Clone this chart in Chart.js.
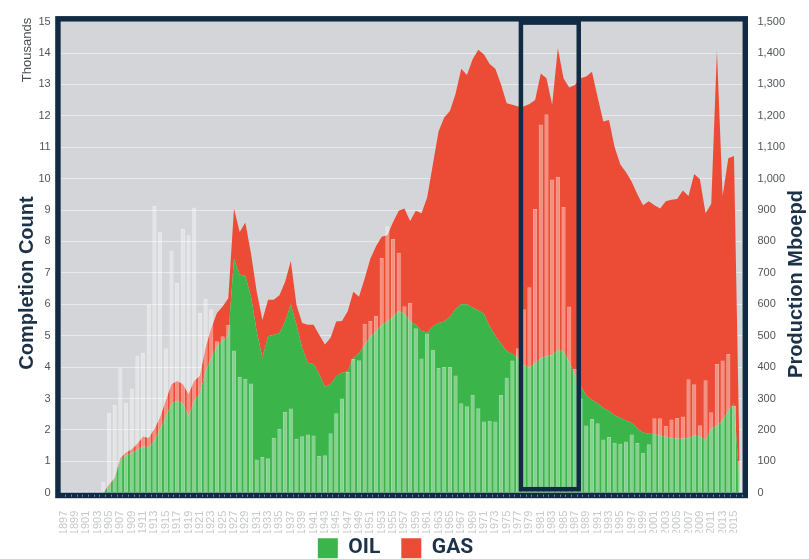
<!DOCTYPE html>
<html>
<head>
<meta charset="utf-8">
<title>Completions and production</title>
<script src="https://cdn.jsdelivr.net/npm/chart.js@4/dist/chart.umd.min.js"></script>
<style>
  html, body { margin: 0; background: #fff; }
  canvas { display: block; }
</style>
</head>
<body>
<canvas id="chart" width="809" height="559"></canvas>
<script>
// categories
const years = [
  1897, 1898, 1899, 1900, 1901, 1902, 1903, 1904, 1905, 1906,
  1907, 1908, 1909, 1910, 1911, 1912, 1913, 1914, 1915, 1916,
  1917, 1918, 1919, 1920, 1921, 1922, 1923, 1924, 1925, 1926,
  1927, 1928, 1929, 1930, 1931, 1932, 1933, 1934, 1935, 1936,
  1937, 1938, 1939, 1940, 1941, 1942, 1943, 1944, 1945, 1946,
  1947, 1948, 1949, 1950, 1951, 1952, 1953, 1954, 1955, 1956,
  1957, 1958, 1959, 1960, 1961, 1962, 1963, 1964, 1965, 1966,
  1967, 1968, 1969, 1970, 1971, 1972, 1973, 1974, 1975, 1976,
  1977, 1978, 1979, 1980, 1981, 1982, 1983, 1984, 1985, 1986,
  1987, 1988, 1989, 1990, 1991, 1992, 1993, 1994, 1995, 1996,
  1997, 1998, 1999, 2000, 2001, 2002, 2003, 2004, 2005, 2006,
  2007, 2008, 2009, 2010, 2011, 2012, 2013, 2014, 2015, 2016
];

// completion count, thousands (left axis)
const completions = [
  0.05, 0.05, 0.05, 0.05, 0.05, 0.05, 0.05, 0.35, 2.54, 2.79,
  3.98, 2.87, 3.32, 4.35, 4.45, 5.98, 9.14, 8.30, 4.60, 7.70,
  6.68, 8.40, 8.20, 9.08, 5.72, 6.17, 5.84, 4.82, 4.98, 5.35,
  4.53, 3.68, 3.63, 3.48, 1.06, 1.14, 1.10, 1.74, 2.03, 2.58,
  2.68, 1.72, 1.80, 1.85, 1.82, 1.17, 1.19, 1.89, 2.53, 3.00,
  3.84, 4.26, 4.22, 5.38, 5.47, 5.63, 7.47, 8.48, 8.08, 7.64,
  5.94, 6.05, 5.24, 4.27, 5.07, 4.55, 3.97, 4.00, 4.00, 3.73,
  2.85, 2.75, 3.11, 2.69, 2.27, 2.29, 2.27, 3.11, 3.66, 4.21,
  4.60, 5.84, 6.54, 9.03, 11.72, 12.05, 9.97, 10.06, 9.10, 5.93,
  3.95, 3.00, 2.14, 2.35, 2.21, 1.69, 1.77, 1.59, 1.56, 1.63,
  1.85, 1.58, 1.27, 1.54, 2.37, 2.37, 2.12, 2.33, 2.38, 2.43,
  3.61, 3.45, 2.15, 3.58, 2.56, 4.10, 4.21, 4.42, 2.77, 1.02
];

// production, Mboepd (right axis, stacked)
const oil = [
  0, 0, 0, 0, 0, 0, 0, 0, 20, 45,
  103, 119, 126, 137, 148, 145, 166, 203, 240, 284,
  293, 284, 245, 293, 314, 387, 429, 466, 484, 500,
  745, 695, 690, 624, 514, 430, 498, 503, 508, 545,
  600, 535, 461, 414, 410, 377, 337, 345, 371, 382,
  387, 430, 445, 470, 497, 513, 534, 545, 560, 578,
  570, 545, 535, 515, 510, 530, 540, 545, 560, 585,
  600, 600, 590, 580, 570, 530, 500, 475, 450, 442,
  430, 405, 398, 412, 428, 435, 438, 455, 450, 415,
  375, 340, 310, 295, 285, 270, 260, 247, 238, 230,
  222, 205, 192, 188, 187, 182, 178, 175, 172, 172,
  174, 182, 180, 166, 205, 212, 230, 260, 285, 30
];
const gas = [
  0, 0, 0, 0, 0, 0, 0, 0, 5, 2,
  7, 9, 12, 19, 31, 29, 37, 37, 53, 61,
  63, 61, 69, 63, 58, 74, 95, 106, 109, 119,
  160, 135, 170, 137, 126, 120, 116, 111, 121, 127,
  138, 63, 79, 121, 125, 126, 135, 148, 174, 165,
  190, 210, 179, 212, 248, 272, 281, 275, 302, 320,
  335, 320, 363, 375, 430, 515, 610, 650, 655, 685,
  750, 730, 790, 830, 825, 835, 850, 825, 790, 793,
  800, 825, 840, 838, 907, 885, 797, 960, 870, 875,
  923, 980, 1015, 1045, 975, 912, 927, 853, 807, 790,
  768, 745, 723, 740, 728, 723, 750, 758, 763, 790,
  771, 833, 818, 724, 715, 1196, 715, 805, 787, 60
];

// outlined years
const highlight = [1978, 1987];

const NAVY = '#102b43';
const TITLE = '#1c3249';
const PLOT_BG = '#d3d5d8';
const GREEN = '#3bb54a';
const RED = '#ec4c35';

Chart.defaults.font.family = '"Liberation Sans", Arial, Helvetica, sans-serif';

// plot background, dark frame, outlined years and axis titles
const frame = {
  id: 'frame',
  afterLayout(chart) {
    // pull the legend up and left so it sits where the original one does
    const lg = chart.legend;
    if (lg) {
      lg.top -= 16; lg.bottom -= 16;
      lg.left -= 9; lg.right -= 9;
    }
  },
  beforeDraw(chart) {
    const { ctx, chartArea: a } = chart;
    ctx.save();
    ctx.fillStyle = PLOT_BG;
    ctx.fillRect(a.left, a.top, a.right - a.left, a.bottom - a.top);
    ctx.restore();
  },
  afterDraw(chart) {
    const { ctx, chartArea: a, scales } = chart;
    const x = scales.x;
    const half = (x.getPixelForValue(1) - x.getPixelForValue(0)) / 2;
    ctx.save();

    ctx.strokeStyle = NAVY;
    ctx.lineWidth = 5.5;
    ctx.strokeRect(a.left - 2.75, a.top - 2.75, a.right - a.left + 5.5, a.bottom - a.top + 5.5);

    // little tick marks inside the bottom frame
    ctx.fillStyle = 'rgba(210,220,230,0.55)';
    years.forEach((y, i) => {
      ctx.fillRect(Math.round(x.getPixelForValue(i) + half) - 1, a.bottom + 2, 1, 2);
    });

    const i0 = years.indexOf(highlight[0]);
    const i1 = years.indexOf(highlight[1]);
    const l = x.getPixelForValue(i0) - half;
    const r = x.getPixelForValue(i1) + half + 1;
    ctx.lineWidth = 4.5;
    ctx.strokeRect(l, a.top + 1, r - l, a.bottom - 3.5 - a.top - 1);

    ctx.textAlign = 'center';
    ctx.textBaseline = 'middle';
    const vtext = (txt, cx, cy, font, color) => {
      ctx.save();
      ctx.translate(cx, cy);
      ctx.rotate(-Math.PI / 2);
      ctx.font = font;
      ctx.fillStyle = color;
      ctx.fillText(txt, 0, 0);
      ctx.restore();
    };
    vtext('Thousands', 27, 50, '13px "Liberation Sans", Arial, sans-serif', '#4a4f55');
    vtext('Completion Count', 27, 283, 'bold 20px "Liberation Sans", Arial, sans-serif', TITLE);
    vtext('Production Mboepd', 796, 284, 'bold 20px "Liberation Sans", Arial, sans-serif', TITLE);
    ctx.restore();
  }
};

new Chart(document.getElementById('chart'), {
  data: {
    labels: years.map(String),
    datasets: [
      {
        type: 'bar',
        label: 'Completions',
        data: completions,
        yAxisID: 'y',
        order: 0,
        backgroundColor: 'rgba(255,255,255,0.38)',
        borderColor: 'rgba(255,255,255,0.5)',
        borderWidth: 1,
        barPercentage: 0.74,
        categoryPercentage: 1
      },
      {
        type: 'line',
        label: 'OIL',
        data: oil,
        yAxisID: 'y1',
        order: 1,
        fill: 'origin',
        backgroundColor: GREEN,
        borderColor: GREEN,
        borderWidth: 0,
        pointRadius: 0,
        tension: 0
      },
      {
        type: 'line',
        label: 'GAS',
        data: gas,
        yAxisID: 'y1',
        order: 2,
        fill: '-1',
        backgroundColor: RED,
        borderColor: RED,
        borderWidth: 0,
        pointRadius: 0,
        tension: 0
      }
    ]
  },
  options: {
    responsive: false,
    animation: false,
    layout: { padding: { top: 17.7, bottom: -25.7, left: 0, right: 0 } },
    plugins: {
      tooltip: { enabled: false },
      legend: {
        position: 'bottom',
        labels: {
          boxWidth: 20,
          boxHeight: 20,
          padding: 21,
          color: TITLE,
          font: { family: 'Roboto, "Liberation Sans", Arial, sans-serif', size: 21, weight: 'bold' },
          filter: (item) => item.text !== 'Completions'
        }
      }
    },
    scales: {
      x: {
        grid: { display: false },
        border: { display: false },
        afterFit(scale) { scale.height = 40; },
        ticks: {
          autoSkip: false,
          minRotation: 90,
          maxRotation: 90,
          padding: 10,
          color: '#c6c8ca',
          font: { size: 11 },
          callback(v, i) { return i % 2 === 0 ? this.getLabelForValue(v) : ''; }
        }
      },
      y: {
        position: 'left',
        min: 0,
        max: 15,
        afterFit(scale) { scale.width = 60.7; },
        grid: { color: 'rgba(240,242,244,0.7)', drawTicks: false },
        border: { display: false },
        ticks: { stepSize: 1, padding: 10, color: '#50555b', font: { size: 11 } }
      },
      y1: {
        position: 'right',
        stacked: true,
        min: 0,
        max: 1500,
        afterFit(scale) { scale.width = 66.5; },
        grid: { display: false, drawTicks: false },
        border: { display: false },
        ticks: { stepSize: 100, padding: 15, color: '#50555b', font: { size: 11 } }
      }
    }
  },
  plugins: [frame]
});
</script>
</body>
</html>
